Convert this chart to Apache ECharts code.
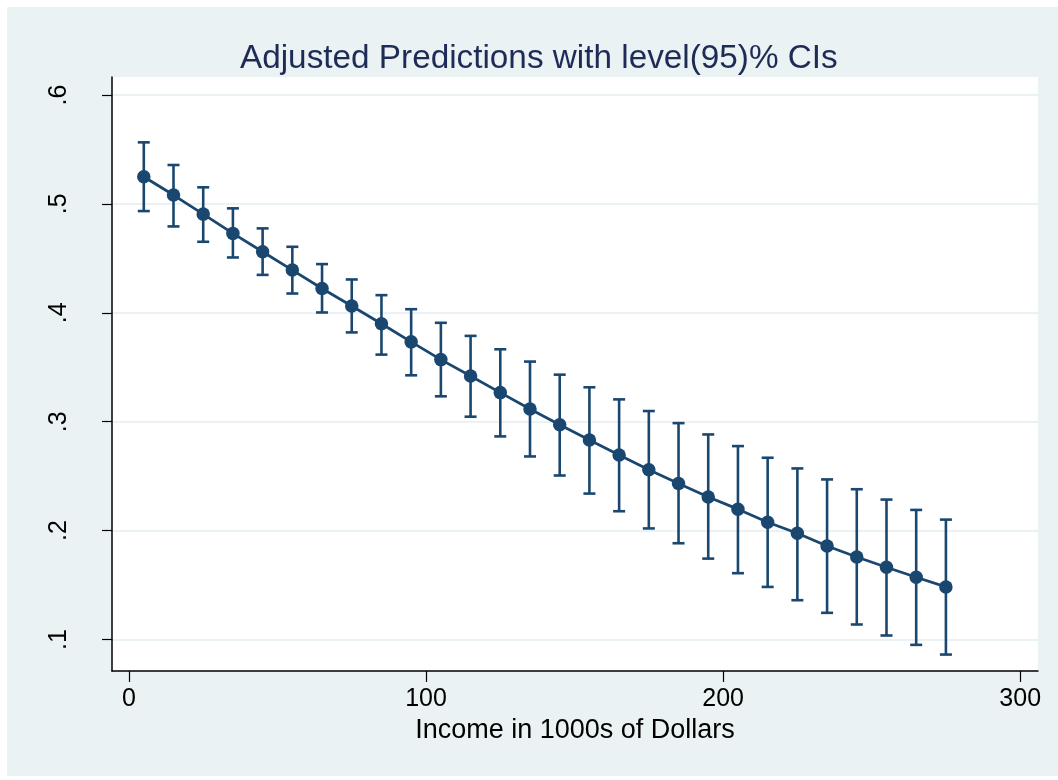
<!DOCTYPE html>
<html>
<head>
<meta charset="utf-8">
<script src="https://cdn.jsdelivr.net/npm/echarts@6/dist/echarts.min.js"></script>
<style>
  html, body { margin: 0; padding: 0; background: #ffffff; }
  #chart { position: absolute; left: 7px; top: 7px; width: 1051px; height: 769px; }
</style>
</head>
<body>
<div id="chart"></div>
<script>
// income in 1000s of dollars
const income = [5, 15, 25, 35, 45, 55, 65, 75, 85, 95, 105, 115, 125, 135,
  145, 155, 165, 175, 185, 195, 205, 215, 225, 235, 245, 255, 265, 275];
// predicted margin
const margin = [0.5249, 0.5081, 0.4906, 0.4729, 0.4560, 0.4392, 0.4223, 0.4063,
  0.3899, 0.3733, 0.3570, 0.3420, 0.3267, 0.3117, 0.2972, 0.2832, 0.2694, 0.2558,
  0.2433, 0.2308, 0.2197, 0.2077, 0.1976, 0.1859, 0.1758, 0.1664, 0.1572, 0.1483];
// 95% CI bounds
const lower = [0.4934, 0.4793, 0.4652, 0.4508, 0.4348, 0.4177, 0.4003, 0.3820,
  0.3616, 0.3426, 0.3233, 0.3046, 0.2865, 0.2681, 0.2506, 0.2340, 0.2178, 0.2020,
  0.1884, 0.1743, 0.1609, 0.1483, 0.1361, 0.1245, 0.1138, 0.1037, 0.0951, 0.0862];
const upper = [0.5565, 0.5357, 0.5152, 0.4959, 0.4775, 0.4606, 0.4447, 0.4306,
  0.4162, 0.4033, 0.3908, 0.3788, 0.3665, 0.3552, 0.3432, 0.3316, 0.3205, 0.3098,
  0.2987, 0.2883, 0.2776, 0.2669, 0.2571, 0.2470, 0.2380, 0.2285, 0.2190, 0.2101];

const xTicks = [0, 100, 200, 300];
const yTicks = [0.1, 0.2, 0.3, 0.4, 0.5, 0.6];
const yTickLabels = ['.1', '.2', '.3', '.4', '.5', '.6'];

const NAVY = '#1A476F';
const FONT = '"Liberation Sans", Arial, sans-serif';

const chart = echarts.init(document.getElementById('chart'));

const ciData = income.map((x, i) => [x, lower[i], upper[i]]);
const lineData = income.map((x, i) => [x, margin[i]]);

chart.setOption({
  backgroundColor: '#EAF2F3',
  animation: false,
  title: {
    text: 'Adjusted Predictions with level(95)% CIs',
    left: 228,
    top: 30,
    padding: 5,
    textStyle: {
      fontFamily: FONT,
      fontSize: 33.3,
      fontWeight: 'normal',
      color: '#1E2B57',
    },
  },
  grid: {
    left: 105,
    right: 20,
    top: 70,
    bottom: 105,
    show: true,
    backgroundColor: '#ffffff',
    borderWidth: 0,
    containLabel: false,
  },
  xAxis: {
    type: 'value',
    min: -5.7,
    max: 306,
    name: 'Income in 1000s of Dollars',
    nameLocation: 'middle',
    nameGap: 44,
    nameTextStyle: { fontFamily: FONT, fontSize: 27, color: '#000' },
    axisLine: { show: true, onZero: false, lineStyle: { color: '#000', width: 1.5 } },
    axisTick: { show: true, length: 11, customValues: xTicks, lineStyle: { color: '#000', width: 1.2 } },
    axisLabel: {
      customValues: xTicks,
      margin: 16,
      fontFamily: FONT,
      fontSize: 25,
      color: '#000',
    },
    splitLine: { show: false },
  },
  yAxis: {
    type: 'value',
    min: 0.0711,
    max: 0.6165,
    axisLine: { show: true, onZero: false, lineStyle: { color: '#000', width: 1.5 } },
    axisTick: { show: true, length: 10, customValues: yTicks, lineStyle: { color: '#000', width: 1.2 } },
    axisLabel: {
      customValues: yTicks,
      rotate: 90,
      margin: 40,
      fontFamily: FONT,
      fontSize: 25,
      color: '#000',
      formatter: (v) => yTickLabels[yTicks.findIndex((t) => Math.abs(t - v) < 1e-6)],
    },
    splitLine: { show: true, lineStyle: { color: '#EAF2F3', width: 2 } },
  },
  series: [
    {
      type: 'custom',
      data: ciData,
      renderItem: (params, api) => {
        const lo = api.coord([api.value(0), api.value(1)]);
        const hi = api.coord([api.value(0), api.value(2)]);
        const style = { stroke: NAVY, lineWidth: 2.6 };
        return {
          type: 'group',
          children: [
            { type: 'line', shape: { x1: lo[0], y1: lo[1], x2: hi[0], y2: hi[1] }, style },
            { type: 'line', shape: { x1: lo[0] - 6, y1: lo[1], x2: lo[0] + 6, y2: lo[1] }, style },
            { type: 'line', shape: { x1: hi[0] - 6, y1: hi[1], x2: hi[0] + 6, y2: hi[1] }, style },
          ],
        };
      },
      z: 2,
    },
    {
      type: 'line',
      data: lineData,
      symbol: 'circle',
      symbolSize: 13.5,
      lineStyle: { color: NAVY, width: 2.8 },
      itemStyle: { color: NAVY },
      z: 3,
    },
  ],
});
</script>
</body>
</html>
